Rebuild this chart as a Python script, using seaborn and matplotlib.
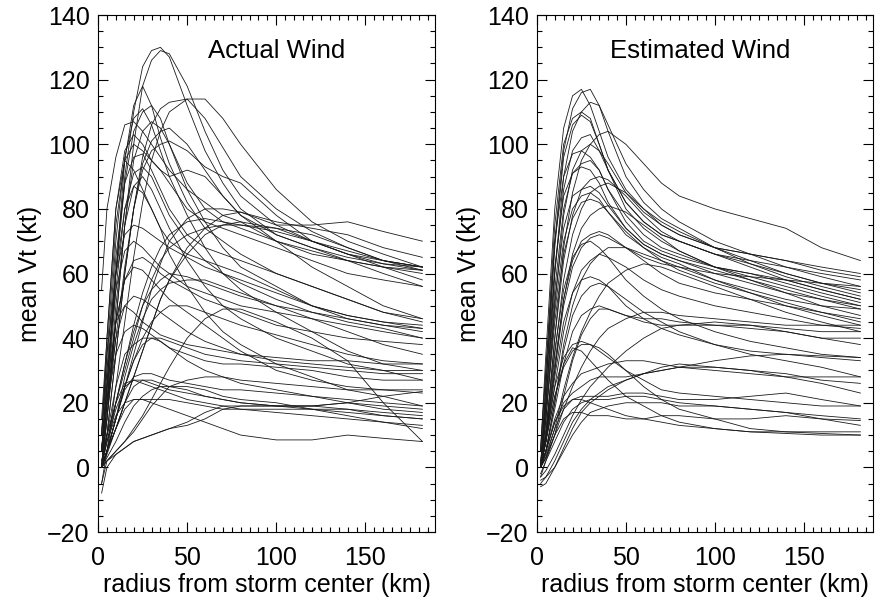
import numpy as np
import pandas as pd
import seaborn as sns
import matplotlib
matplotlib.use("Agg")
import matplotlib.pyplot as plt
from matplotlib.ticker import MultipleLocator

# radius sample points (km) shared by every profile
radius = [2, 5, 10, 15, 20, 25, 30, 35, 40, 50, 60, 70, 80, 100, 120, 140, 160, 182]

# Actual wind profiles (kt)
actual = [
    [5, 25, 60, 90, 110, 124, 129, 130, 127, 112, 98, 88, 80, 72, 68, 65, 63, 62],
    [0, 15, 45, 75, 100, 118, 126, 129, 128, 118, 104, 92, 84, 75, 70, 66, 63, 61],
    [0, 20, 60, 95, 112, 118, 112, 102, 94, 82, 74, 70, 66, 60, 56, 52, 48, 46],
    [-5, 5, 25, 45, 65, 82, 95, 104, 110, 114, 114, 108, 100, 86, 76, 70, 66, 62],
    [0, 10, 35, 60, 80, 96, 106, 111, 113, 114, 108, 99, 90, 80, 73, 68, 64, 61],
    [5, 25, 60, 88, 104, 110, 112, 108, 100, 86, 76, 68, 62, 56, 50, 46, 44, 42],
    [10, 30, 70, 96, 108, 111, 106, 98, 90, 78, 68, 60, 55, 48, 42, 36, 32, 30],
    [55, 80, 96, 106, 107, 104, 100, 96, 92, 86, 82, 78, 76, 70, 62, 56, 50, 46],
    [0, 15, 45, 75, 95, 104, 107, 105, 100, 88, 80, 76, 74, 70, 67, 64, 60, 56],
    [0, 10, 35, 60, 80, 94, 101, 104, 105, 100, 92, 84, 78, 70, 66, 64, 62, 60],
    [5, 15, 40, 62, 80, 92, 98, 100, 101, 98, 93, 90, 88, 78, 70, 66, 64, 62],
    [15, 40, 80, 98, 103, 100, 95, 92, 90, 92, 90, 84, 78, 72, 68, 64, 62, 61],
    [10, 35, 75, 95, 100, 98, 95, 92, 88, 80, 76, 74, 72, 68, 64, 60, 58, 56],
    [5, 25, 65, 88, 96, 97, 92, 86, 80, 72, 68, 66, 64, 60, 56, 52, 48, 45],
    [0, 20, 55, 80, 91, 93, 90, 84, 78, 70, 64, 60, 57, 52, 48, 45, 43, 40],
    [10, 40, 80, 95, 92, 86, 80, 74, 70, 66, 64, 62, 60, 55, 50, 47, 45, 43],
    [0, 15, 50, 75, 87, 90, 86, 80, 74, 64, 56, 50, 46, 40, 36, 32, 30, 27],
    [5, 25, 60, 80, 87, 85, 80, 74, 66, 56, 48, 42, 38, 32, 28, 24, 22, 19],
    [0, 5, 15, 25, 35, 45, 55, 63, 70, 77, 80, 80, 79, 76, 74, 72, 68, 65],
    [0, 5, 12, 20, 28, 36, 44, 52, 58, 68, 74, 78, 79, 75, 75, 76, 73, 70],
    [0, 8, 20, 32, 44, 54, 62, 68, 72, 76, 77, 76, 75, 73, 70, 67, 64, 62],
    [5, 10, 20, 30, 40, 50, 58, 64, 68, 72, 74, 75, 75, 74, 72, 68, 64, 62],
    [0, 5, 12, 20, 28, 36, 44, 52, 58, 66, 72, 75, 76, 74, 70, 66, 62, 58],
    [10, 35, 60, 72, 75, 74, 72, 70, 68, 65, 62, 60, 58, 54, 50, 47, 45, 44],
    [5, 30, 55, 67, 70, 68, 65, 62, 60, 56, 54, 52, 50, 48, 46, 44, 42, 40],
    [5, 20, 45, 58, 64, 65, 63, 60, 58, 55, 52, 50, 48, 44, 42, 40, 39, 38],
    [0, 20, 45, 58, 62, 61, 58, 55, 52, 48, 44, 40, 36, 30, 27, 25, 24, 23],
    [0, 5, 20, 32, 42, 50, 55, 58, 60, 59, 57, 55, 53, 50, 48, 46, 44, 43],
    [0, 5, 15, 28, 38, 46, 52, 55, 57, 58, 58, 56, 54, 50, 46, 42, 38, 35],
    [5, 20, 40, 50, 53, 52, 50, 48, 46, 42, 39, 37, 35, 33, 32, 31, 30, 30],
    [0, 5, 15, 25, 33, 40, 45, 48, 50, 50, 48, 46, 44, 41, 38, 35, 33, 32],
    [5, 20, 35, 42, 44, 43, 41, 39, 37, 35, 33, 32, 32, 31, 30, 28, 27, 27],
    [0, 2, 5, 8, 12, 16, 21, 26, 31, 40, 46, 49, 49, 45, 40, 33, 20, 8],
    [0, 5, 15, 25, 33, 38, 40, 40, 39, 37, 35, 34, 33, 32, 31, 30, 29, 29],
    [0, 10, 25, 35, 38, 40, 40, 39, 37, 33, 30, 28, 26, 24, 22, 20, 18, 17],
    [5, 25, 45, 50, 48, 45, 43, 41, 40, 38, 37, 36, 35, 34, 33, 33, 32, 32],
    [0, 5, 15, 24, 28, 29, 29, 28, 27, 26, 25, 24, 24, 23, 22, 21, 20, 19],
    [2, 8, 18, 25, 27, 27, 26, 25, 24, 23, 22, 21, 20, 19, 18, 17, 16, 15],
    [0, 4, 12, 20, 25, 27, 27, 26, 25, 24, 22, 21, 20, 19, 19, 20, 22, 23.5],
    [0, 3, 8, 14, 19, 22, 24, 25, 25, 25, 24, 22, 21, 20, 18, 16, 14, 12],
    [0, 2, 5, 8, 11, 15, 19, 22, 25, 27, 28, 28, 27, 26, 25, 24, 24, 24],
    [-5, 2, 4, 6, 8, 9, 10, 11, 12, 14, 17, 19, 19, 19, 19, 20, 19, 18],
    [-8, 0, 4, 6, 8, 9, 10, 11, 12, 13, 15, 18, 19, 19, 19, 18, 16, 15],
    [0, 8, 16, 20, 21, 21, 20, 19, 18, 16, 14, 12, 10, 8.5, 8.5, 10, 9, 8],
    [0, 5, 12, 18, 21, 21, 21, 21, 21, 20, 19, 18, 18, 18, 18, 18, 17, 16],
    [2, 10, 20, 26, 27, 26, 25, 24, 23, 21, 20, 19, 18, 17, 16, 15, 14, 13],
]

# Estimated wind profiles (kt)
estimated = [
    [5, 35, 80, 105, 115, 117, 112, 104, 96, 86, 80, 76, 73, 68, 64, 60, 57, 55],
    [0, 25, 70, 98, 111, 116, 117, 112, 104, 90, 82, 77, 74, 68, 63, 59, 56, 53],
    [0, 20, 60, 90, 104, 110, 113, 112, 106, 94, 86, 80, 76, 70, 66, 62, 59, 56],
    [5, 30, 75, 100, 108, 110, 108, 100, 92, 82, 76, 72, 70, 66, 63, 60, 57, 54],
    [0, 25, 68, 96, 106, 109, 107, 100, 92, 80, 74, 70, 67, 62, 59, 56, 53, 50],
    [0, 10, 40, 68, 85, 95, 100, 103, 104, 100, 94, 88, 84, 80, 77, 74, 68, 64],
    [0, 20, 60, 86, 98, 102, 103, 98, 92, 82, 76, 72, 70, 66, 62, 58, 55, 52],
    [0, 15, 50, 78, 92, 98, 100, 98, 94, 85, 79, 75, 72, 68, 66, 64, 62, 60],
    [5, 30, 70, 90, 97, 98, 96, 92, 86, 78, 72, 68, 66, 62, 60, 57, 54, 51],
    [0, 20, 55, 80, 91, 94, 95, 92, 86, 76, 70, 67, 65, 62, 60, 58, 55, 52],
    [0, 25, 62, 84, 91, 93, 92, 88, 82, 74, 69, 66, 64, 60, 57, 54, 52, 50],
    [0, 10, 40, 64, 78, 86, 89, 90, 89, 84, 78, 73, 70, 66, 64, 62, 60, 58],
    [0, 8, 35, 58, 72, 80, 85, 87, 88, 85, 80, 75, 72, 68, 66, 64, 61, 59],
    [0, 18, 52, 74, 84, 86, 87, 85, 81, 74, 69, 66, 64, 61, 58, 55, 52, 49],
    [0, 15, 48, 70, 80, 84, 85, 83, 79, 72, 68, 65, 63, 58, 54, 50, 47, 44],
    [0, 15, 45, 66, 77, 82, 83, 82, 79, 73, 68, 64, 61, 57, 54, 51, 48, 46],
    [0, 8, 30, 52, 66, 74, 78, 80, 81, 79, 75, 71, 67, 62, 58, 54, 50, 47],
    [0, 10, 32, 52, 64, 70, 72, 73, 72, 68, 64, 60, 57, 54, 52, 50, 48, 45],
    [0, 10, 30, 50, 62, 68, 71, 72, 71, 68, 65, 63, 62, 60, 59, 58, 57, 56],
    [0, 12, 36, 55, 65, 69, 70, 68, 65, 58, 53, 49, 46, 42, 39, 37, 35, 34],
    [0, 5, 20, 38, 50, 58, 63, 66, 68, 68, 66, 64, 62, 58, 55, 52, 50, 49],
    [0, 8, 25, 42, 54, 61, 64, 66, 65, 62, 58, 55, 53, 50, 48, 46, 44, 43],
    [0, 3, 12, 24, 34, 42, 48, 53, 57, 61, 63, 62, 60, 56, 52, 48, 45, 42],
    [0, 8, 28, 45, 54, 58, 59, 58, 56, 50, 46, 43, 41, 38, 36, 35, 34, 33],
    [0, 5, 20, 36, 47, 53, 56, 57, 56, 52, 48, 45, 42, 38, 35, 33, 31, 28],
    [0, 5, 18, 32, 42, 47, 49, 50, 49, 47, 46, 46, 45, 44, 43, 42, 40, 40],
    [-3, 2, 10, 22, 33, 41, 46, 49, 49, 47, 45, 44, 44, 44, 44, 43, 42, 42],
    [0, 3, 10, 18, 25, 31, 36, 40, 43, 46, 48, 48, 47, 46, 45, 44, 44, 44],
    [-3, -1, 4, 10, 16, 21, 25, 28, 31, 36, 40, 43, 44, 45, 44, 42, 40, 38],
    [0, 10, 25, 34, 38, 39, 38, 36, 34, 30, 27, 24, 23, 22, 21, 20, 19, 19],
    [0, 8, 22, 31, 36, 38, 38, 37, 35, 30, 25, 21, 18, 15, 12, 11, 10.5, 10],
    [-5, -3, 2, 8, 14, 18, 21, 23, 25, 27, 29, 30, 31, 33, 34.5, 35, 34.5, 34],
    [-6, -5, 0, 6, 12, 17, 20, 22, 24, 27, 29, 31, 32, 31, 30, 28, 26, 23],
    [0, 5, 15, 22, 26, 29, 30, 31, 32, 33, 33, 32, 31, 30, 29, 28, 28, 28],
    [0, 5, 14, 20, 23, 25, 27, 28, 28, 28, 29, 30, 31, 31, 30, 29, 27, 26],
    [0, 4, 12, 18, 21, 22, 22, 22, 22, 23, 23, 22, 21, 21, 22, 23, 21, 19],
    [-2, 2, 8, 14, 18, 20, 21, 21, 21, 22, 22, 21, 20, 19, 18, 17, 16, 15],
    [0, 3, 10, 15, 17, 17, 16, 16, 16, 15, 15, 16, 16, 15, 15, 16, 15, 14.5],
    [0, 5, 14, 19, 21, 21, 20, 19, 18, 16, 15, 14, 13, 12, 11, 10.5, 10, 10],
    [-4, -3, 0, 5, 10, 14, 17, 18, 19, 20, 20, 20, 19, 19, 18, 17, 15, 13],
    [0, 8, 22, 32, 37, 36, 33, 30, 27, 22, 19, 16, 14, 12, 11, 11, 11, 11],
]

panel_titles = ["Actual Wind", "Estimated Wind"]
title_x = [100, 92]
x_ticks = [0, 50, 100, 150]
y_ticks = [-20, 0, 20, 40, 60, 80, 100, 120, 140]


def to_long(profiles):
    rows = []
    for i, p in enumerate(profiles):
        for r, v in zip(radius, p):
            rows.append({"curve": i, "r": r, "v": v})
    return pd.DataFrame(rows)


sns.set_style("ticks", {"text.color": "black", "axes.labelcolor": "black",
                        "xtick.color": "black", "ytick.color": "black",
                        "axes.edgecolor": "black"})
plt.rcParams["font.family"] = ["Liberation Sans", "DejaVu Sans"]

fig = plt.figure(figsize=(8.8, 6.01), dpi=100)
ax1 = fig.add_axes([0.1114, 0.1148, 0.3829, 0.8602])
ax2 = fig.add_axes([0.6102, 0.1148, 0.3818, 0.8602])

for ax, profiles, title, tx in zip([ax1, ax2], [actual, estimated], panel_titles, title_x):
    df = to_long(profiles)
    sns.lineplot(data=df, x="r", y="v", units="curve", estimator=None,
                 color="#1a1a1a", linewidth=0.6, ax=ax, legend=False)
    ax.set_xlim(0, 189)
    ax.set_ylim(-20, 140)
    ax.set_xticks(x_ticks)
    ax.set_yticks(y_ticks)
    ax.xaxis.set_minor_locator(MultipleLocator(5))
    ax.yaxis.set_minor_locator(MultipleLocator(5))
    ax.tick_params(which="both", direction="in", top=True, right=True,
                   labelsize=18, width=0.8, colors="black")
    ax.tick_params(which="major", length=7, pad=6)
    ax.tick_params(axis="x", which="major", pad=10)
    ax.tick_params(which="minor", length=3.5)
    for s in ax.spines.values():
        s.set_linewidth(0.8)
        s.set_color("black")
    ax.set_xlabel("radius from storm center (km)", fontsize=18, labelpad=2)
    ax.set_ylabel("mean Vt (kt)", fontsize=18, labelpad=4)
    ax.text(tx, 129, title, ha="center", va="center", fontsize=18.5)

fig.savefig("out.png", dpi=100)
